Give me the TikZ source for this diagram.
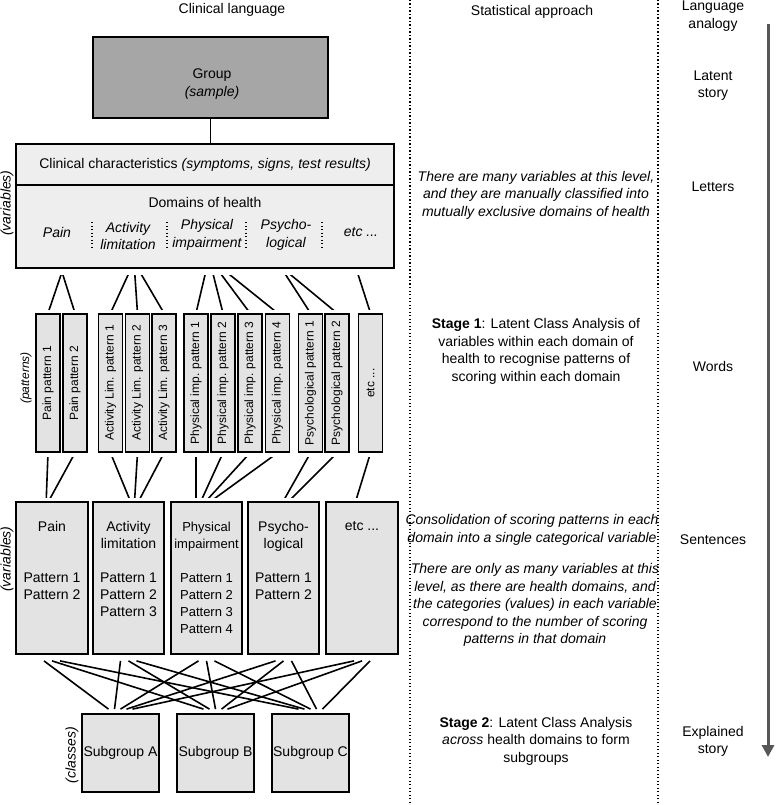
\documentclass[tikz,border=0pt]{standalone}
\usepackage{fontspec}
\setmainfont{Liberation Sans}
\usepackage{graphicx}
\usetikzlibrary{arrows.meta}

\begin{document}
\begin{tikzpicture}[x=1pt,y=-1pt,
	font=\fontsize{14}{17.5}\selectfont,
	box/.style={draw,line width=1.8pt,inner sep=0pt},
	link/.style={line width=1.6pt},
	sep/.style={line width=1.3pt,dash pattern=on 1.3pt off 2.2pt},
	small/.style={font=\fontsize{12}{14}\selectfont},
	txt/.style={align=center,inner sep=0pt}]

	\useasboundingbox (0,0) rectangle (776,805);

	% column heads
	\node (hclin) at (232,10) {Clinical language};
	\node (hstat) at (532,12) {Statistical approach};
	\node[txt] (hlang) at (713,16) {Language\\analogy};

	% column separators
	\draw[sep] (410,0) -- (410,805);
	\draw[sep] (658,0) -- (658,805);

	% analogy arrow
	\coordinate (atop) at (768,24);
	\coordinate (abot) at (768,757);
	\draw[line width=3pt,black!66,-{Triangle[width=12pt,length=12pt]}] (atop) -- (abot);

	% group
	\node[box,fill=gray!70,minimum width=235pt,minimum height=81pt] (group) at (210.5,77.5) {};
	\node[txt] (grouptxt) at (212,84) {Group\\\textit{(sample)}};

	% clinical characteristics and domains
	\node[box,fill=gray!13,minimum width=378pt,minimum height=41pt] (clin) at (205,164.5)
		{Clinical characteristics \textit{(symptoms, signs, test results)}};
	\node[box,fill=gray!13,minimum width=378pt,minimum height=83pt] (dom) at (205,226.5) {};
	\draw[link] (group.south) -- (group.south |- clin.north);
	\node (domtxt) at (205,202) {Domains of health};
	\node[txt,font=\fontsize{14}{17.5}\selectfont\itshape] (dpain) at (57,232) {Pain};
	\node[txt,font=\fontsize{14}{17.5}\selectfont\itshape] (dact) at (128,236) {Activity\\limitation};
	\node[txt,font=\fontsize{14}{17.5}\selectfont\itshape] (dphys) at (207,235) {Physical\\impairment};
	\node[txt,font=\fontsize{14}{17.5}\selectfont\itshape] (dpsy) at (286,235) {Psycho-\\logical};
	\node[txt,font=\fontsize{14}{17.5}\selectfont\itshape] (detc) at (361,232) {etc ...};
	\foreach \x in {92,167,246,322}
		\draw[sep] (\x,222) -- (\x,247);

	% patterns
	\foreach \x/\n/\t in {48/pat1/Pain pattern 1, 75/pat2/Pain pattern 2,
		110.5/pat3/Activity Lim. pattern 1, 137.5/pat4/Activity Lim. pattern 2, 164/pat5/Activity Lim. pattern 3,
		196/pat6/Physical imp. pattern 1, 223/pat7/Physical imp. pattern 2, 250/pat8/Physical imp. pattern 3,
		277.5/pat9/Physical imp. pattern 4, 310.5/pat10/Psychological pattern 1, 337/pat11/Psychological pattern 2}
		\node[box,fill=gray!22,minimum width=24pt,minimum height=138pt,small] (\n) at (\x,383) {\rotatebox{90}{\t}};
	\node[box,fill=gray!22,minimum width=24pt,minimum height=138pt,small] (pat12) at (370.5,383) {\rotatebox{90}{etc ...}};

	% fan domains -> patterns
	\coordinate (upain) at (62,272);
	\coordinate (uact) at (134,262);
	\coordinate (uphys) at (209,258);
	\coordinate (upsy) at (280,266);
	\coordinate (uetc) at (355,265);
	\begin{scope}
		\clip (0,275) rectangle (400,309);
		\foreach \n/\a in {pat1/upain,pat2/upain,pat3/uact,pat4/uact,pat5/uact,pat6/uphys,
			pat7/uphys,pat8/uphys,pat9/uphys,pat10/upsy,pat11/upsy,pat12/uetc}
			\draw[link] (\a) -- (\n.north);
	\end{scope}

	% variables
	\node[box,fill=gray!22,minimum width=72pt,minimum height=152pt] (vpain) at (52,578) {};
	\node[box,fill=gray!22,minimum width=71pt,minimum height=152pt] (vact) at (128.5,578) {};
	\node[box,fill=gray!22,minimum width=71pt,minimum height=152pt] (vphys) at (206.5,578) {};
	\node[box,fill=gray!22,minimum width=71pt,minimum height=152pt] (vpsy) at (283.5,578) {};
	\node[box,fill=gray!22,minimum width=72pt,minimum height=152pt] (vetc) at (362,578) {};
	\node[txt,anchor=north,font=\fontsize{14}{17}\selectfont] (vpaintxt) at (52,521.5)
		{Pain\\[34pt]Pattern 1\\Pattern 2};
	\node[txt,anchor=north,font=\fontsize{14}{17}\selectfont] (vacttxt) at (128.5,521.5)
		{Activity\\limitation\\[17pt]Pattern 1\\Pattern 2\\Pattern 3};
	\node[txt,anchor=north,font=\fontsize{13}{17}\selectfont] (vphystxt) at (206.5,521.5)
		{Physical\\impairment\\[17pt]Pattern 1\\Pattern 2\\Pattern 3\\Pattern 4};
	\node[txt,anchor=north,font=\fontsize{14}{17}\selectfont] (vpsytxt) at (283.5,521.5)
		{Psycho-\\logical\\[17pt]Pattern 1\\Pattern 2};
	\node[txt,anchor=north,font=\fontsize{14}{17}\selectfont] (vetctxt) at (362,521.5) {etc ...};

	% fan patterns -> variables
	\coordinate (lpain) at (46,506);
	\coordinate (lact) at (134,510);
	\coordinate (lphys) at (196,512);
	\coordinate (lpsy) at (276,514);
	\coordinate (letc) at (353,510);
	\begin{scope}
		\clip (0,457) rectangle (400,497);
		\foreach \n/\a in {pat1/lpain,pat2/lpain,pat3/lact,pat4/lact,pat5/lact,pat6/lphys,
			pat7/lphys,pat8/lphys,pat9/lphys,pat10/lpsy,pat11/lpsy,pat12/letc}
			\draw[link] (\n.south) -- (\a);
	\end{scope}

	% subgroups
	\node[box,fill=gray!22,minimum width=77pt,minimum height=78pt] (sa) at (120.5,753) {Subgroup A};
	\node[box,fill=gray!22,minimum width=77pt,minimum height=78pt] (sb) at (215.5,753) {Subgroup B};
	\node[box,fill=gray!22,minimum width=77pt,minimum height=78pt] (sc) at (310.5,753) {Subgroup C};
	\foreach \i/\v in {1/vpain,2/vact,3/vphys,4/vpsy,5/vetc}
		\foreach \j/\s in {1/sa,2/sb,3/sc}
			\draw[link] ([xshift={(\j-2)*8pt},yshift=-6pt]\v.south) -- ([xshift={(\i-3)*6pt},yshift=4pt]\s.north);

	% level names
	\node[rotate=90,font=\fontsize{14}{17}\selectfont\itshape] (lvar1) at (7,203) {(variables)};
	\node[rotate=90,font=\fontsize{12}{14}\selectfont\itshape] (lpat) at (26,378) {(patterns)};
	\node[rotate=90,font=\fontsize{14}{17}\selectfont\itshape] (lvar2) at (7,559) {(variables)};
	\node[rotate=90,font=\fontsize{14}{17}\selectfont\itshape] (lcls) at (72,755) {(classes)};

	% statistical approach
	\node[txt,font=\fontsize{14}{17.5}\selectfont\itshape] (stvars) at (536,195)
		{There are many variables at this level,\\and they are manually classified into\\mutually exclusive domains of health};
	\node[txt] (stone) at (536,351.5)
		{\textbf{Stage 1}: Latent Class Analysis of\\variables within each domain of\\health to recognise patterns of\\scoring within each domain};
	\node[txt,font=\fontsize{14}{17.5}\selectfont\itshape] (stcons) at (532,530)
		{Consolidation of scoring patterns in each\\domain into a single categorical variable};
	\node[txt,font=\fontsize{14}{17.5}\selectfont\itshape] (stonly) at (535,605)
		{There are only as many variables at this\\level, as there are health domains, and\\the categories (values) in each variable\\correspond to the number of scoring\\patterns in that domain};
	\node[txt] (sttwo) at (536,741)
		{\textbf{Stage 2}: Latent Class Analysis\\\textit{across} health domains to form\\subgroups};

	% language analogy
	\node[txt] (anlat) at (713,85.5) {Latent\\story};
	\node (anlet) at (713,187) {Letters};
	\node (anwor) at (713,366) {Words};
	\node (ansen) at (713,540) {Sentences};
	\node[txt] (anexp) at (713,741.5) {Explained\\story};

\end{tikzpicture}
\end{document}
